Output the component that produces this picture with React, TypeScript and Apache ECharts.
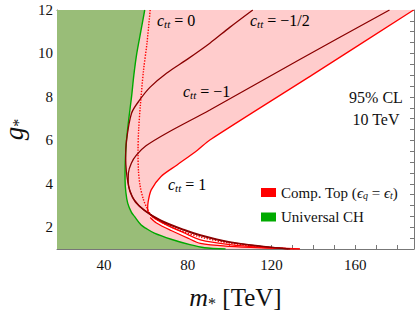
import React, { useEffect, useRef } from "react";
import * as echarts from "echarts";

const X_MIN = 17.5;
const X_MAX = 188;
const Y_MIN = 1;
const Y_MAX = 12;

const xTickLabels = [40, 80, 120, 160];
const xTicks = [20, 30, 40, 50, 60, 70, 80, 90, 100, 110, 120, 130, 140, 150, 160, 170, 180];
const yTickLabels = [2, 4, 6, 8, 10, 12];
const yMinorTicks = [1.5, 2.5, 3, 3.5, 4.5, 5, 5.5, 6.5, 7, 7.5, 8.5, 9, 9.5, 10.5, 11, 11.5];
const yAllTicks = [1.5, 2, 2.5, 3, 3.5, 4, 4.5, 5, 5.5, 6, 6.5, 7, 7.5, 8, 8.5, 9, 9.5, 10, 10.5, 11, 11.5, 12];

// Universal CH boundary (green)
const greenCurve: [number, number][] = [
  [59.4, 12], [57.5, 11], [55.6, 10], [54.2, 9], [53.1, 8], [51.8, 7], [50.7, 6], [50.1, 5],
  [50.0, 4.2], [50.4, 3.6], [51.3, 3.1], [53, 2.7], [54.5, 2.5], [57.7, 2.1], [60, 1.95],
  [64, 1.73], [72, 1.45], [81, 1.2], [88, 1.06], [98, 1.0],
];

// c_tt = 1 (upper branch and nose)
const ctt1Upper: [number, number][] = [
  [187.8, 12], [140, 9.05], [90.5, 6.02], [84.7, 5.56], [75, 4.88], [67.2, 4.34], [62.5, 3.72],
  [61, 3.15], [60.8, 2.85],
];
// c_tt = 1 (lower branch)
const ctt1Lower: [number, number][] = [
  [61.3, 2.65], [64, 2.42], [70, 2.1], [78, 1.75], [86, 1.42], [100, 1.2], [115, 1.08], [133.5, 1.0],
];
// outer envelope of the composite-top region at the bottom
const envelopeLower: [number, number][] = [
  [62, 2.45], [65, 2.2], [72, 1.85], [80, 1.5], [86, 1.26], [100, 1.12], [115, 1.05], [133.5, 1.0],
];
// c_tt = 0 (dotted)
const ctt0: [number, number][] = [
  [62, 12], [60.5, 10.5], [58.8, 9.2], [57.3, 7.6], [56.5, 6.5], [56.2, 5.5], [56.4, 4.6],
  [57.2, 3.9], [58.7, 3.3], [60.4, 2.9], [62.5, 2.55], [66, 2.3], [75, 1.9], [86, 1.55],
  [100, 1.27], [115, 1.1], [131, 1.0],
];
// c_tt = -1/2
const cttHalf: [number, number][] = [
  [111, 12], [100, 11.2], [90.5, 10.47], [80, 9.75], [69.8, 9.09], [62, 8.45], [57, 7.86],
  [53.1, 7.25], [50.7, 6.0], [50.3, 5.2], [50.6, 4.6], [51.3, 4.1], [52.5, 3.6], [55, 3.15],
  [60, 2.72], [68, 2.25], [78, 1.87], [86, 1.62], [100, 1.3], [115, 1.12], [128.8, 1.0],
];
// c_tt = -1
const cttMinus1: [number, number][] = [
  [176.3, 12], [133, 9.7], [90.5, 7.4], [69.8, 6.33], [60, 5.75], [55.5, 5.33], [53, 4.95],
  [51.6, 4.5], [51.5, 4.1], [52.3, 3.7], [54.5, 3.25], [59, 2.8], [67, 2.33], [78, 1.9],
  [86, 1.65], [100, 1.33], [115, 1.13], [128, 1.0],
];

const SERIF = "Liberation Serif, DejaVu Serif, serif";
const PINK = "#ffcccc";
const GREEN_FILL = "#99bd78";
const RED = "#ff0000";
const DARK = "#8a0000";
const GREEN_LINE = "#00a800";
const FRAME = "#777777";

const COMP_NAME = "Comp. Top";
const UNIV_NAME = "Universal CH";

function polygonSeries(name: string, points: [number, number][], fill: string) {
  return {
    type: "custom",
    name,
    coordinateSystem: "cartesian2d",
    xAxisIndex: 0,
    yAxisIndex: 0,
    silent: true,
    clip: true,
    itemStyle: { color: fill },
    data: points,
    encode: { x: 0, y: 1 },
    renderItem: (params: any, api: any) => {
      if (params.dataIndex !== 0) return null;
      const pts = points.map((p) => api.coord(p));
      return {
        type: "polygon",
        shape: { points: pts },
        style: { fill, stroke: "none" },
      };
    },
  };
}

function lineSeries(data: [number, number][], color: string, width: number, type: string = "solid") {
  return {
    type: "line",
    xAxisIndex: 0,
    yAxisIndex: 0,
    data,
    showSymbol: false,
    symbol: "none",
    smooth: 0.3,
    silent: true,
    clip: true,
    lineStyle: { color, width, type },
  };
}

const cttRich = {
  c: { fontFamily: SERIF, fontStyle: "italic", fontSize: 16, color: "#111", lineHeight: 18 },
  s: { fontFamily: SERIF, fontStyle: "italic", fontSize: 11, color: "#111", lineHeight: 9, verticalAlign: "bottom" },
  n: { fontFamily: SERIF, fontSize: 16, color: "#111", lineHeight: 18 },
};

function cttLabel(x: number, y: number, value: string) {
  return {
    type: "text",
    x,
    y,
    z: 100,
    silent: true,
    style: {
      text: `{c|c}{s|tt}{n| = ${value}}`,
      rich: cttRich,
      verticalAlign: "middle",
      align: "left",
    },
  };
}

export default function App() {
  const ref = useRef<HTMLDivElement>(null);

  useEffect(() => {
    if (!ref.current) return;
    const chart = echarts.init(ref.current, undefined, { renderer: "svg" });

    const pinkPoly: [number, number][] = [
      [X_MIN, Y_MAX],
      ...ctt1Upper,
      ...envelopeLower,
      [X_MIN, Y_MIN],
    ];
    const greenPoly: [number, number][] = [[X_MIN, Y_MAX], ...greenCurve, [X_MIN, Y_MIN]];

    const tickLine = { color: FRAME, width: 1 };

    chart.setOption({
      animation: false,
      backgroundColor: "#ffffff",
      grid: { left: 57, right: 6, top: 10, bottom: 66, containLabel: false, outerBoundsMode: "none" },
      legend: {
        left: 261,
        top: 185,
        padding: 0,
        orient: "vertical",
        itemWidth: 15,
        itemHeight: 9,
        itemGap: 9,
        icon: "rect",
        data: [
          { name: COMP_NAME, itemStyle: { color: RED } },
          { name: UNIV_NAME, itemStyle: { color: "#00aa00" } },
        ],
        formatter: (name: string) =>
          name === COMP_NAME
            ? "{r|Comp. Top (}{i|ϵ}{s|q}{r| = }{i|ϵ}{s|t}{r|)}"
            : "{r|Universal CH}",
        textStyle: {
          fontFamily: SERIF,
          fontSize: 15,
          color: "#111",
          rich: {
            r: { fontFamily: SERIF, fontSize: 15, color: "#111", lineHeight: 16 },
            i: { fontFamily: SERIF, fontStyle: "italic", fontSize: 15, color: "#111", lineHeight: 16 },
            s: { fontFamily: SERIF, fontStyle: "italic", fontSize: 10, color: "#111", lineHeight: 8, verticalAlign: "bottom" },
          },
        },
      },
      xAxis: [
        {
          type: "value",
          min: X_MIN,
          max: X_MAX,
          position: "bottom",
          axisLine: { show: true, lineStyle: tickLine },
          axisTick: { show: true, inside: true, length: 4, customValues: xTicks, lineStyle: tickLine },
          axisLabel: { customValues: xTickLabels, fontFamily: SERIF, fontSize: 15, color: "#111", margin: 8 },
          splitLine: { show: false },
          name: "{m|m}{s|*}{n| [TeV]}",
          nameLocation: "middle",
          nameGap: 34,
          nameTextStyle: {
            rich: {
              m: { fontFamily: SERIF, fontStyle: "italic", fontSize: 26, color: "#111", lineHeight: 28 },
              s: { fontFamily: SERIF, fontSize: 16, color: "#111", lineHeight: 10, verticalAlign: "bottom" },
              n: { fontFamily: SERIF, fontSize: 25, color: "#111", lineHeight: 28 },
            },
          },
        },
        {
          type: "value",
          min: X_MIN,
          max: X_MAX,
          position: "top",
          axisLine: { show: true, lineStyle: tickLine },
          axisTick: { show: true, inside: true, length: 4, customValues: xTicks, lineStyle: tickLine },
          axisLabel: { show: false },
          splitLine: { show: false },
        },
      ],
      yAxis: [
        {
          type: "value",
          min: Y_MIN,
          max: Y_MAX,
          position: "left",
          axisLine: { show: true, lineStyle: tickLine },
          axisTick: { show: true, inside: true, length: 7, customValues: yTickLabels, lineStyle: tickLine },
          axisLabel: { customValues: yTickLabels, fontFamily: SERIF, fontSize: 15, color: "#111", margin: 4 },
          splitLine: { show: false },
          name: "{g|g}{s|*}",
          nameLocation: "middle",
          nameGap: 19,
          nameRotate: 90,
          nameTextStyle: {
            rich: {
              g: { fontFamily: SERIF, fontStyle: "italic", fontSize: 27, color: "#111", lineHeight: 26 },
              s: { fontFamily: SERIF, fontSize: 16, color: "#111", lineHeight: 10, verticalAlign: "bottom" },
            },
          },
        },
        {
          type: "value",
          min: Y_MIN,
          max: Y_MAX,
          position: "left",
          axisLine: { show: false },
          axisTick: { show: true, inside: true, length: 4, customValues: yMinorTicks, lineStyle: tickLine },
          axisLabel: { show: false },
          splitLine: { show: false },
        },
        {
          type: "value",
          min: Y_MIN,
          max: Y_MAX,
          position: "right",
          axisLine: { show: true, lineStyle: tickLine },
          axisTick: { show: true, inside: true, length: 4, customValues: yAllTicks, lineStyle: tickLine },
          axisLabel: { show: false },
          splitLine: { show: false },
        },
      ],
      series: [
        polygonSeries(COMP_NAME, pinkPoly, PINK),
        polygonSeries(UNIV_NAME, greenPoly, GREEN_FILL),
        lineSeries(greenCurve, GREEN_LINE, 1.4),
        lineSeries(envelopeLower, RED, 1.2),
        lineSeries(ctt0, RED, 1.4, "dotted"),
        lineSeries([...ctt1Upper, ...ctt1Lower], RED, 1.3),
        lineSeries(cttHalf, DARK, 1.3),
        lineSeries(cttMinus1, DARK, 1.3),
      ],
      graphic: [
        cttLabel(157, 20, "0"),
        cttLabel(250, 20, "\u22121/2"),
        cttLabel(183, 91, "\u22121"),
        cttLabel(168, 184, "1"),
        {
          type: "text",
          x: 376,
          y: 97,
          z: 100,
          silent: true,
          style: { text: "95% CL", font: `16px ${SERIF}`, fill: "#111", align: "center", verticalAlign: "middle" },
        },
        {
          type: "text",
          x: 376,
          y: 119,
          z: 100,
          silent: true,
          style: { text: "10 TeV", font: `16px ${SERIF}`, fill: "#111", align: "center", verticalAlign: "middle" },
        },
      ],
    });

    return () => chart.dispose();
  }, []);

  return (
    <div
      ref={ref}
      style={{ position: "absolute", left: 0, top: 0, width: 420, height: 315 }}
    />
  );
}
